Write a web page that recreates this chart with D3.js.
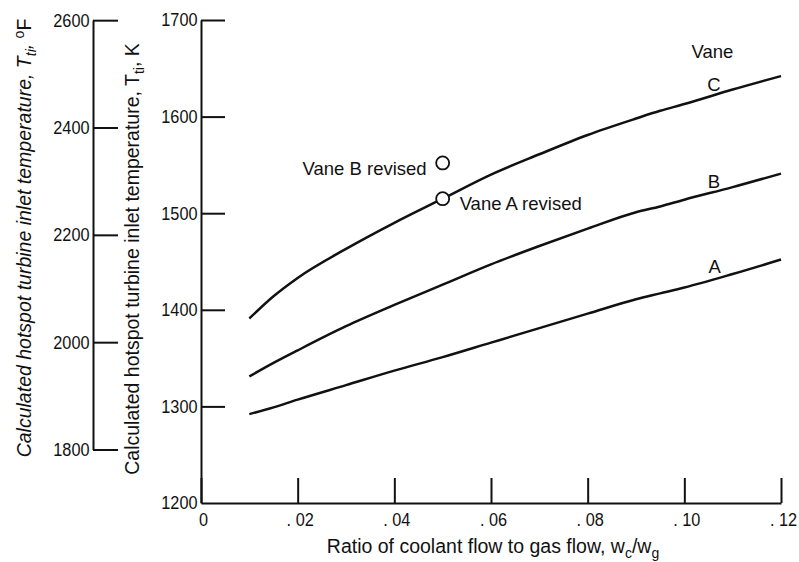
<!DOCTYPE html>
<html>
<head>
<meta charset="utf-8">
<script src="https://cdn.jsdelivr.net/npm/d3@7"></script>
<style>
  body { margin: 0; background: #fff; }
  svg { display: block; }
  text { font-family: "Liberation Sans", Arial, sans-serif; fill: #111; }
</style>
</head>
<body>
<div id="myPlot"></div>
<script>
// coolant flow ratio sample points, shared by all three vane curves
const ratio = [0.01, 0.015, 0.02, 0.03, 0.04, 0.05, 0.06, 0.07, 0.08, 0.09, 0.095, 0.10, 0.11, 0.12];

// hotspot temperature (K) for each vane
const vaneA = [1292, 1299, 1307, 1322, 1337, 1351, 1366, 1381, 1396, 1411, 1417, 1423, 1437, 1452];
const vaneB = [1331, 1345, 1358, 1383, 1405, 1426, 1447, 1466, 1484, 1501, 1507, 1514, 1527, 1541];
const vaneC = [1391, 1414, 1433, 1463, 1490, 1515, 1540, 1561, 1581, 1598, 1606, 1613, 1628, 1642];

// revised vane test points
const revisedRatio = [0.05, 0.05];
const revisedTemp = [1552, 1515];
const revisedLabels = ["Vane B revised", "Vane A revised"];

// tick values
const xTicks = [0, 0.02, 0.04, 0.06, 0.08, 0.10, 0.12];
const kTicks = [1200, 1300, 1400, 1500, 1600, 1700];
const fTicks = [1800, 2000, 2200, 2400, 2600];

const width = 799;
const height = 562;

const svg = d3.select("#myPlot")
  .append("svg")
  .attr("width", width)
  .attr("height", height);

// scales
const x = d3.scaleLinear().domain([0, 0.12]).range([201, 781]);
const y = d3.scaleLinear().domain([1200, 1700]).range([503, 20]);

// fahrenheit axis lines up with the kelvin one
function fToK(f){ return (f - 32) * 5 / 9 + 273.15; }
const yF = d3.scaleLinear().domain([1800, 2600]).range([y(fToK(1800)), y(fToK(2600))]);

function styleAxis(g){
  g.attr("font-family", null).attr("font-size", null);
  g.select(".domain").attr("stroke", "#111").attr("stroke-width", 2);
  g.selectAll(".tick line").attr("stroke", "#111").attr("stroke-width", 2);
  g.selectAll(".tick text").attr("font-size", 18.5).attr("fill", "#111");
}

// X Axis
svg.append("g")
  .attr("transform", "translate(0," + y(1200) + ")")
  .call(d3.axisBottom(x)
    .tickValues(xTicks)
    .tickSize(-25)
    .tickSizeOuter(0)
    .tickPadding(10)
    .tickFormat(function (d) { return d === 0 ? "0" : d3.format(".2f")(d).replace("0.", ". "); }))
  .call(styleAxis)
  .call(function (g) { g.selectAll(".tick text").attr("transform", "translate(2,0) scale(0.88,1)"); });

// Kelvin Y Axis
svg.append("g")
  .attr("transform", "translate(" + x(0) + ",0)")
  .call(d3.axisLeft(y).tickValues(kTicks).tickSize(-24).tickSizeOuter(0).tickPadding(4).tickFormat(d3.format("d")))
  .call(styleAxis)
  .call(function (g) {
    g.selectAll(".tick text").attr("transform", "scale(0.88,1)");
    g.selectAll(".tick").filter(function (d) { return d === 1200; }).select("line").remove();
  });

// Fahrenheit Y Axis
svg.append("g")
  .attr("transform", "translate(93,0)")
  .call(d3.axisLeft(yF).tickValues(fTicks).tickSize(-25).tickSizeOuter(0).tickPadding(4).tickFormat(d3.format("d")))
  .call(styleAxis)
  .call(function (g) { g.selectAll(".tick text").attr("transform", "scale(0.88,1)"); });

// curves
const line = d3.line()
  .x(function (d) { return x(d[0]); })
  .y(function (d) { return y(d[1]); })
  .curve(d3.curveMonotoneX);

[vaneA, vaneB, vaneC].forEach(function (vals) {
  svg.append("path")
    .datum(d3.zip(ratio, vals))
    .attr("d", line)
    .attr("fill", "none")
    .attr("stroke", "#111")
    .attr("stroke-width", 2.5);
});

// curve labels
svg.append("text").attr("x", x(0.1058)).attr("y", y(1661)).attr("text-anchor", "middle").attr("font-size", 18.5).text("Vane");
svg.append("text").attr("x", x(0.1061)).attr("y", y(1626)).attr("text-anchor", "middle").attr("font-size", 18.5).text("C");
svg.append("text").attr("x", x(0.1061)).attr("y", y(1526)).attr("text-anchor", "middle").attr("font-size", 18.5).text("B");
svg.append("text").attr("x", x(0.1063)).attr("y", y(1438)).attr("text-anchor", "middle").attr("font-size", 18.5).text("A");

// revised points
svg.append("g")
  .selectAll("circle")
  .data(d3.zip(revisedRatio, revisedTemp)).enter()
  .append("circle")
  .attr("cx", function (d) { return x(d[0]); })
  .attr("cy", function (d) { return y(d[1]); })
  .attr("r", 6.5)
  .attr("fill", "#fff")
  .attr("stroke", "#111")
  .attr("stroke-width", 1.8);

svg.append("text").attr("x", x(0.05) - 16).attr("y", y(revisedTemp[0]) + 12)
  .attr("text-anchor", "end").attr("font-size", 18.5).text(revisedLabels[0]);
svg.append("text").attr("x", x(0.05) + 17).attr("y", y(revisedTemp[1]) + 11)
  .attr("text-anchor", "start").attr("font-size", 18.5).text(revisedLabels[1]);

// x axis title
const xt = svg.append("text")
  .attr("x", (x(0) + x(0.12)) / 2 + 2)
  .attr("y", 553)
  .attr("text-anchor", "middle")
  .attr("font-size", 19.5);
xt.append("tspan").text("Ratio of coolant flow to gas flow,  w");
xt.append("tspan").attr("dy", 5).attr("font-size", 14).text("c");
xt.append("tspan").attr("dy", -5).text("/w");
xt.append("tspan").attr("dy", 5).attr("font-size", 14).text("g");

// y axis titles (rotated)
const kt = svg.append("text")
  .attr("transform", "translate(139,259) rotate(-90)")
  .attr("text-anchor", "middle")
  .attr("font-size", 19.5);
kt.append("tspan").text("Calculated hotspot turbine inlet temperature,  T");
kt.append("tspan").attr("dy", 5).attr("font-size", 14).text("ti");
kt.append("tspan").attr("dy", -5).text(",  K");

const ft = svg.append("text")
  .attr("transform", "translate(31,238) rotate(-90)")
  .attr("text-anchor", "middle")
  .attr("font-size", 19.5)
  .attr("font-style", "italic");
ft.append("tspan").text("Calculated hotspot turbine inlet temperature,  T");
ft.append("tspan").attr("dy", 5).attr("font-size", 14).text("ti");
ft.append("tspan").attr("dy", -5).text(",  ");
ft.append("tspan").attr("dy", -7).attr("font-size", 14).attr("font-style", "normal").text("o");
ft.append("tspan").attr("dy", 7).attr("font-style", "normal").text("F");
</script>
</body>
</html>
